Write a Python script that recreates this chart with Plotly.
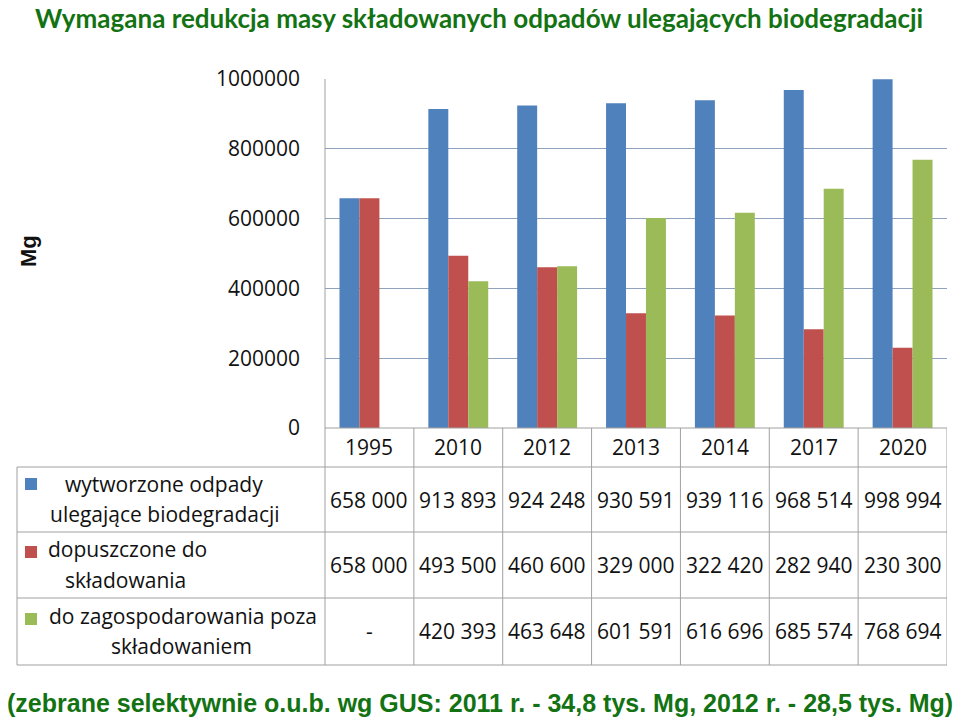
import plotly.graph_objects as go

years = ["1995", "2010", "2012", "2013", "2014", "2017", "2020"]
wytworzone = [658000, 913893, 924248, 930591, 939116, 968514, 998994]
dopuszczone = [658000, 493500, 460600, 329000, 322420, 282940, 230300]
zagospodarowanie = [None, 420393, 463648, 601591, 616696, 685574, 768694]

series_names = [
    ["wytworzone odpady", "ulegające biodegradacji"],
    ["dopuszczone do", "składowania"],
    ["do zagospodarowania poza", "składowaniem"],
]
series_values = [wytworzone, dopuszczone, zagospodarowanie]
series_colors = ["#4f81bd", "#c0504d", "#9bbb59"]

title_text = "Wymagana redukcja masy składowanych odpadów ulegających biodegradacji"
footer_text = "(zebrane selektywnie o.u.b. wg GUS: 2011 r. - 34,8 tys. Mg, 2012 r. - 28,5 tys. Mg)"
y_title = "Mg"

W, H = 960, 723
L, R, T, B = 325, 947, 79, 428  # plot area in pixels
PW, PH = R - L, B - T


def px(xp):
    return (xp - L) / PW


def py(yp):
    return (B - yp) / PH


def fmt(v):
    if v is None:
        return "-"
    return f"{v:,}".replace(",", " ")


FONT = "Open Sans"
TXT = "#111111"
GRID = "#8fa2bd"
LINE = "#a0a0a0"

fig = go.Figure()
for name, vals, col in zip(series_names, series_values, series_colors):
    fig.add_trace(go.Bar(x=years, y=vals, name=" ".join(name), marker=dict(color=col, line=dict(width=0))))

fig.update_layout(
    width=W, height=H,
    margin=dict(l=L, r=W - R, t=T, b=H - B, pad=0),
    paper_bgcolor="white", plot_bgcolor="white",
    barmode="group", bargap=0.326, bargroupgap=0,
    showlegend=False,
    font=dict(family=FONT, size=21, color=TXT),
)
fig.update_xaxes(type="category", showticklabels=False, ticks="", showgrid=False, showline=False,
                 zeroline=False, range=[-0.5, len(years) - 0.5])
fig.update_yaxes(range=[0, 1000000], dtick=200000, tickformat="d", showgrid=True, gridcolor=GRID,
                 gridwidth=1, zeroline=False, showline=False, ticks="", ticklabelstandoff=24,
                 tickfont=dict(family=FONT, size=21, color=TXT))

shapes = []
# y axis line continuing down along the table's left edge
shapes.append(dict(type="line", xref="paper", yref="paper", x0=0, x1=0, y0=1, y1=py(665),
                   line=dict(color=LINE, width=1)))
# x axis / table top line
shapes.append(dict(type="line", xref="paper", yref="paper", x0=0, x1=1, y0=0, y1=0,
                   line=dict(color=LINE, width=1)))
# table horizontal lines
row_lines = [467, 532, 598, 665]
for yl in row_lines:
    shapes.append(dict(type="line", xref="paper", yref="paper", x0=px(17), x1=1, y0=py(yl), y1=py(yl),
                       line=dict(color=LINE, width=1)))
# legend column left border
shapes.append(dict(type="line", xref="paper", yref="paper", x0=px(17), x1=px(17), y0=py(467), y1=py(665),
                   line=dict(color=LINE, width=1)))
# column separators
for i in range(len(years)):
    shapes.append(dict(type="line", xref="x", yref="paper", x0=i + 0.5, x1=i + 0.5, y0=0, y1=py(665),
                       line=dict(color=LINE, width=1)))

annotations = []
# header years
for i, yr in enumerate(years):
    annotations.append(dict(x=i, y=py(447), xref="x", yref="paper", text=yr, showarrow=False,
                            xanchor="center", yanchor="middle", font=dict(size=21, color=TXT)))
row_centers = [500, 565, 631]
for vals, yc in zip(series_values, row_centers):
    for i, v in enumerate(vals):
        annotations.append(dict(x=i, y=py(yc), xref="x", yref="paper", text=fmt(v), showarrow=False,
                                xanchor="center", yanchor="middle", font=dict(size=21, color=TXT)))

# legend cells
line1_centers = [164, 127, 183]
line2_centers = [165, 125, 181]
line1_y = [484, 549, 616]
line2_y = [514, 580, 646]
sq_y = [484, 552, 619]
for name, col, c1, c2, y1, y2, sy in zip(series_names, series_colors, line1_centers, line2_centers,
                                          line1_y, line2_y, sq_y):
    shapes.append(dict(type="rect", xref="paper", yref="paper", x0=px(25), x1=px(37),
                       y0=py(sy + 6), y1=py(sy - 6), fillcolor=col, line=dict(width=0)))
    annotations.append(dict(x=px(c1), y=py(y1), xref="paper", yref="paper", text=name[0], showarrow=False,
                            xanchor="center", yanchor="middle", font=dict(size=21, color=TXT)))
    annotations.append(dict(x=px(c2), y=py(y2), xref="paper", yref="paper", text=name[1], showarrow=False,
                            xanchor="center", yanchor="middle", font=dict(size=21, color=TXT)))

# title, footer, y title
annotations.append(dict(x=px(479), y=py(18), xref="paper", yref="paper", text=f"<b>{title_text}</b>",
                        showarrow=False, xanchor="center", yanchor="middle",
                        font=dict(family="Lato", size=26, color="#137313")))
annotations.append(dict(x=px(480), y=py(703), xref="paper", yref="paper", text=f"<b>{footer_text}</b>",
                        showarrow=False, xanchor="center", yanchor="middle",
                        font=dict(family="Liberation Sans", size=25, color="#137313")))
annotations.append(dict(x=px(28), y=py(251), xref="paper", yref="paper", text=f"<b>{y_title}</b>",
                        showarrow=False, xanchor="center", yanchor="middle", textangle=-90,
                        font=dict(family="Liberation Sans", size=22, color="#111111")))

fig.update_layout(shapes=shapes, annotations=annotations)
fig.write_html("out.html")
